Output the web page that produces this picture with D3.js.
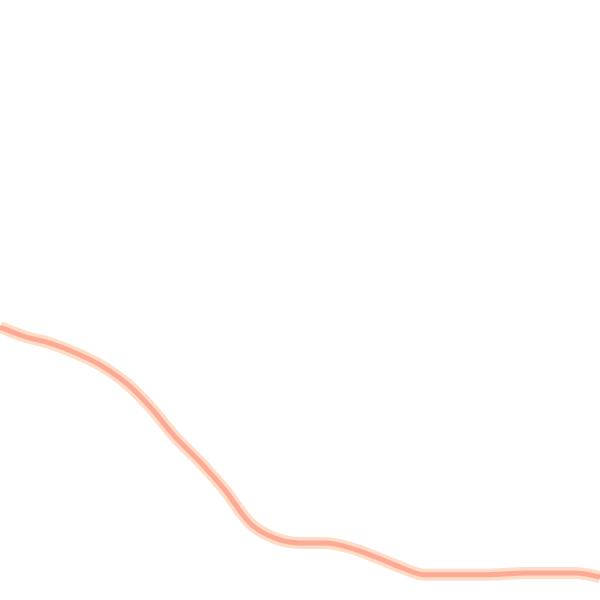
<!DOCTYPE html>
<html>
<head>
<meta charset="utf-8">
<script src="https://cdn.jsdelivr.net/npm/d3@7"></script>
<style>
  html, body { margin: 0; padding: 0; background: #fff; }
  svg { display: block; }
</style>
</head>
<body>
<svg id="chart" width="600" height="600"></svg>
<script>
// Data (x index, value)
const xIndex = [0,1,2,3,4,5,6,7,8,9,10,11,12,13,14,15,16,17,18,19,20,21,22,23,24];
const values = [45.5,43.9,42.8,41.2,39.2,36.3,32.2,27.2,23.0,18.3,12.8,10.3,9.5,9.5,8.7,7.2,5.5,4.2,4.2,4.2,4.3,4.5,4.5,4.5,3.8];

const width = 600, height = 600;
const svg = d3.select("#chart");

const x = d3.scaleLinear().domain([0, 24]).range([0, width]);
const y = d3.scaleLinear().domain([0, 100]).range([height, 0]);

const data = xIndex.map((d, i) => ({ x: d, v: values[i] }));

const line = d3.line()
  .x(d => x(d.x))
  .y(d => y(d.v))
  .curve(d3.curveMonotoneX);

svg.append("path")
  .datum(data)
  .attr("fill", "none")
  .attr("stroke", "#fedcc6")
  .attr("stroke-width", 12)
  .attr("stroke-linejoin", "round")
  .attr("d", line);

svg.append("path")
  .datum(data)
  .attr("fill", "none")
  .attr("stroke", "#fcaa96")
  .attr("stroke-width", 5)
  .attr("stroke-linejoin", "round")
  .attr("d", line);
</script>
</body>
</html>
